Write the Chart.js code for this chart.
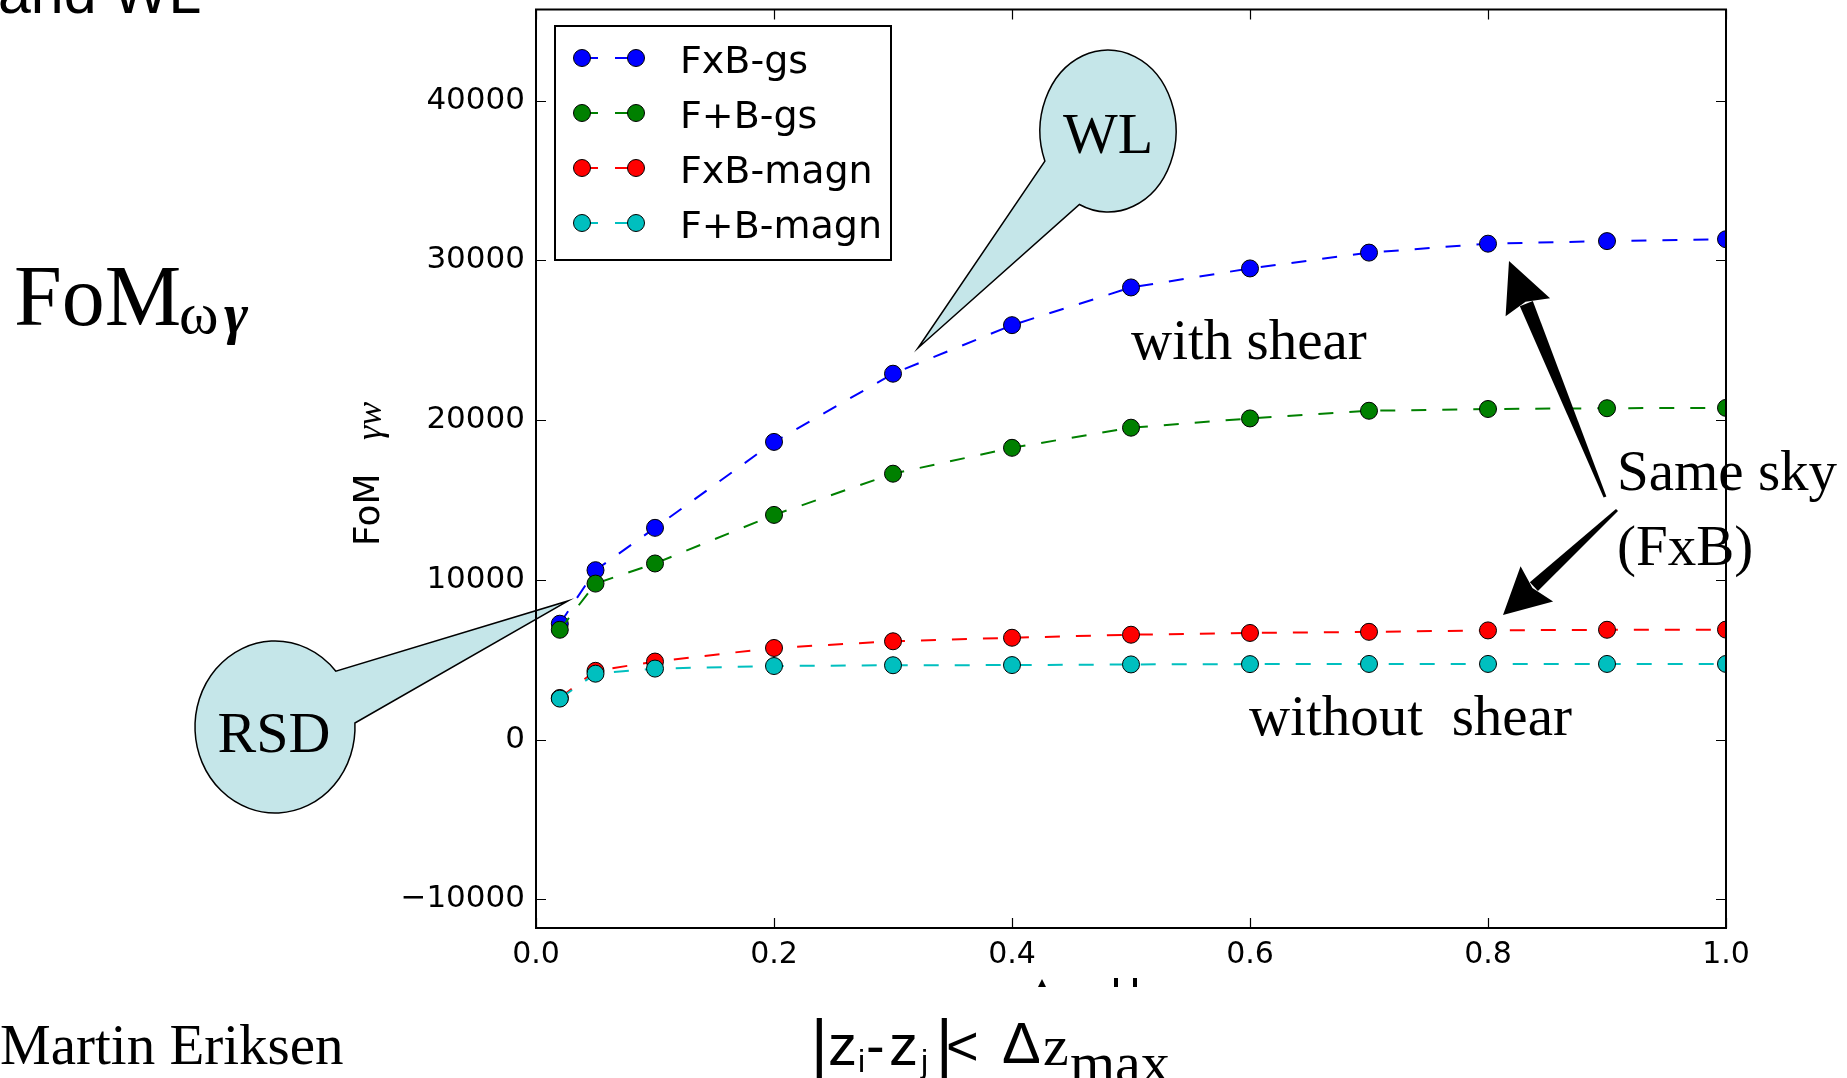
<!DOCTYPE html>
<html>
<head>
<meta charset="utf-8">
<script src="https://cdn.jsdelivr.net/npm/chart.js@4.4.1/dist/chart.umd.min.js"></script>
<style>
  html, body { margin: 0; padding: 0; background: #fff; overflow: hidden; }
  canvas { display: block; }
</style>
</head>
<body>
<canvas id="fomChart" width="1847" height="1078"></canvas>
<script>
// values
const zmax = [0.02, 0.05, 0.1, 0.2, 0.3, 0.4, 0.5, 0.6, 0.7, 0.8, 0.9, 1.0];
const fxbGs = [7250, 10600, 13250, 18630, 22900, 25940, 28300, 29490, 30480, 31040, 31200, 31320];
const fpbGs = [6870, 9760, 11020, 14060, 16640, 18260, 19520, 20100, 20580, 20690, 20740, 20760];
const fxbMagn = [2600, 4300, 4880, 5730, 6150, 6370, 6560, 6670, 6740, 6830, 6870, 6880];
const fpbMagn = [2560, 4120, 4440, 4600, 4650, 4660, 4700, 4720, 4730, 4730, 4730, 4730];
const seriesNames = ['FxB-gs', 'F+B-gs', 'FxB-magn', 'F+B-magn'];
const seriesColors = ['#0000ff', '#008000', '#ff0000', '#00bfbf'];
const yTicks = [-10000, 0, 10000, 20000, 30000, 40000];
const xTicks = [0, 0.2, 0.4, 0.6, 0.8, 1.0];

const series = [fxbGs, fpbGs, fxbMagn, fpbMagn];
const SANS = '"DejaVu Sans"';
const SERIF = '"Liberation Serif"';
const BUBBLE = '#c5e6e9';

function bubble(ctx, cx, cy, rx, ry, b1, b2, tip, label, tx, ty) {
    const a1 = Math.atan2((b1[1] - cy) / ry, (b1[0] - cx) / rx);
    const a2 = Math.atan2((b2[1] - cy) / ry, (b2[0] - cx) / rx);
    ctx.beginPath();
    ctx.ellipse(cx, cy, rx, ry, 0, a1, a2, false);
    ctx.lineTo(tip[0], tip[1]);
    ctx.closePath();
    ctx.fillStyle = BUBBLE;
    ctx.fill();
    ctx.lineWidth = 1.5;
    ctx.strokeStyle = '#000';
    ctx.stroke();
    ctx.fillStyle = '#000';
    ctx.font = '58px ' + SERIF;
    ctx.textAlign = 'center';
    ctx.fillText(label, tx, ty);
    ctx.textAlign = 'left';
}

function arrow(ctx, tail, tip, headLen, headHalf, w0, w1) {
    const dx = tip[0] - tail[0], dy = tip[1] - tail[1];
    const L = Math.hypot(dx, dy);
    const ux = dx / L, uy = dy / L, nx = -uy, ny = ux;
    const bx = tip[0] - ux * headLen, by = tip[1] - uy * headLen;
    ctx.fillStyle = '#000';
    ctx.beginPath();
    ctx.moveTo(tail[0] + nx * w0, tail[1] + ny * w0);
    ctx.lineTo(bx + ux * 4 + nx * w1, by + uy * 4 + ny * w1);
    ctx.lineTo(bx + ux * 4 - nx * w1, by + uy * 4 - ny * w1);
    ctx.lineTo(tail[0] - nx * w0, tail[1] - ny * w0);
    ctx.closePath();
    ctx.fill();
    ctx.beginPath();
    ctx.moveTo(tip[0], tip[1]);
    ctx.lineTo(bx + nx * headHalf, by + ny * headHalf);
    ctx.lineTo(bx + ux * 6, by + uy * 6);
    ctx.lineTo(bx - nx * headHalf, by - ny * headHalf);
    ctx.closePath();
    ctx.fill();
}

const decor = {
    id: 'decor',
    beforeDraw(chart) {
        const ctx = chart.ctx;
        ctx.save();
        ctx.fillStyle = '#fff';
        ctx.fillRect(0, 0, chart.width, chart.height);
        ctx.restore();
    },
    afterDraw(chart) {
        const ctx = chart.ctx;
        const a = chart.chartArea;
        const xs = chart.scales.x, ys = chart.scales.y;
        ctx.save();

        // inward ticks on all four sides
        ctx.strokeStyle = '#000';
        ctx.lineWidth = 1.2;
        ctx.beginPath();
        yTicks.forEach(v => {
            const p = Math.round(ys.getPixelForValue(v)) + 0.5;
            ctx.moveTo(a.left, p); ctx.lineTo(a.left + 10, p);
            ctx.moveTo(a.right, p); ctx.lineTo(a.right - 10, p);
        });
        xTicks.forEach(v => {
            const p = Math.round(xs.getPixelForValue(v)) + 0.5;
            ctx.moveTo(p, a.bottom); ctx.lineTo(p, a.bottom - 10);
            ctx.moveTo(p, a.top); ctx.lineTo(p, a.top + 10);
        });
        ctx.stroke();

        // legend box
        ctx.fillStyle = '#fff';
        ctx.fillRect(555, 26, 336, 234);
        ctx.lineWidth = 2;
        ctx.strokeRect(555, 26, 336, 234);
        seriesNames.forEach((name, i) => {
            const yy = 58 + i * 55;
            ctx.strokeStyle = seriesColors[i];
            ctx.lineWidth = 2;
            ctx.beginPath();
            ctx.moveTo(582, yy); ctx.lineTo(598, yy);
            ctx.moveTo(615, yy); ctx.lineTo(636, yy);
            ctx.stroke();
            [582, 636].forEach(mx => {
                ctx.beginPath();
                ctx.arc(mx, yy, 8.5, 0, Math.PI * 2);
                ctx.fillStyle = seriesColors[i];
                ctx.fill();
                ctx.strokeStyle = '#000';
                ctx.lineWidth = 1;
                ctx.stroke();
            });
            ctx.fillStyle = '#000';
            ctx.font = '38px ' + SANS;
            ctx.fillText(name, 680, yy + 15);
        });

        // y axis title
        ctx.save();
        ctx.translate(379, 546);
        ctx.rotate(-Math.PI / 2);
        ctx.fillStyle = '#000';
        ctx.font = '36px ' + SANS;
        ctx.fillText('FoM', 0, 0);
        ctx.font = 'italic 36px ' + SERIF;
        ctx.fillText('γw', 106, 2);
        ctx.restore();

        // callouts
        bubble(ctx, 1108, 131, 68, 81, [1045, 161], [1080, 203], [918, 348], 'WL', 1108, 153);
        bubble(ctx, 275, 727, 80, 86, [355, 723], [335, 672], [568, 601], 'RSD', 274, 752);

        // texts in the slide
        ctx.fillStyle = '#000';
        ctx.textAlign = 'left';
        ctx.font = '57px ' + SERIF;
        ctx.fillText('with shear', 1131, 359);
        ctx.fillText('without  shear', 1249, 735);
        ctx.fillText('Same sky', 1617, 490);
        ctx.fillText('(FxB)', 1617, 565);

        arrow(ctx, [1605, 497], [1509, 261], 50, 24, 1.5, 7);
        arrow(ctx, [1617, 510], [1503, 615], 46, 24, 1.5, 6);

        ctx.font = '86px ' + SERIF;
        ctx.fillText('FoM', 14, 325);
        ctx.font = '60px ' + SERIF;
        ctx.fillText('ω', 179, 333);
        ctx.font = 'bold italic 58px ' + SERIF;
        ctx.fillText('γ', 224, 333);

        ctx.font = '59px "Liberation Sans"';
        ctx.fillText('and WL', -2, 13);

        ctx.font = '57px ' + SERIF;
        ctx.fillText('Martin Eriksen', 0, 1064);

        // x axis title |zi-zj|< Δzmax
        const LS = '"Liberation Sans"';
        ctx.font = '64px ' + LS; ctx.fillText('|', 811, 1065);
        ctx.font = '58px ' + LS; ctx.fillText('z', 828, 1065);
        ctx.font = '32px ' + LS; ctx.fillText('i', 858, 1072);
        ctx.font = '56px ' + LS; ctx.fillText('-', 866, 1065);
        ctx.font = '58px ' + LS; ctx.fillText('z', 889, 1065);
        ctx.font = '32px ' + LS; ctx.fillText('j', 921, 1072);
        ctx.font = '64px ' + LS; ctx.fillText('|', 936, 1065);
        ctx.font = '56px ' + LS; ctx.fillText('<', 946, 1065);
        ctx.font = '58px ' + LS; ctx.fillText('Δ', 1002, 1063);
        ctx.font = '58px ' + SERIF; ctx.fillText('z', 1043, 1065);
        ctx.font = '58px ' + SERIF; ctx.fillText('max', 1070, 1082);

        // remnants of a covered label
        ctx.beginPath();
        ctx.moveTo(1038, 987); ctx.lineTo(1046, 987); ctx.lineTo(1042, 979);
        ctx.closePath(); ctx.fill();
        ctx.fillRect(1114, 978, 4, 9);
        ctx.fillRect(1133, 978, 4, 9);

        // axes frame
        ctx.strokeStyle = '#000';
        ctx.lineWidth = 2;
        ctx.strokeRect(a.left, a.top, a.right - a.left, a.bottom - a.top);
        ctx.restore();
    }
};

new Chart(document.getElementById('fomChart'), {
    type: 'line',
    data: {
        datasets: series.map((vals, i) => ({
            label: seriesNames[i],
            data: zmax.map((x, k) => ({ x: x, y: vals[k] })),
            borderColor: seriesColors[i],
            backgroundColor: seriesColors[i],
            borderWidth: 2,
            borderDash: [15, 16],
            pointRadius: 8.5,
            pointBorderWidth: 1,
            pointBorderColor: '#000',
            pointBackgroundColor: seriesColors[i],
            tension: 0,
            fill: false,
            order: 4 - i
        }))
    },
    options: {
        responsive: false,
        devicePixelRatio: 1,
        animation: false,
        events: [],
        layout: { padding: { left: 0, right: 121, top: 9, bottom: 0 } },
        plugins: { legend: { display: false }, tooltip: { enabled: false } },
        scales: {
            x: {
                type: 'linear',
                min: 0,
                max: 1,
                afterBuildTicks: s => { s.ticks = xTicks.map(v => ({ value: v })); },
                afterFit: s => { s.height = 150; s.paddingLeft = 0; s.paddingRight = 0; },
                grid: { display: false },
                border: { display: false },
                ticks: {
                    padding: 1,
                    color: '#000',
                    font: { family: 'DejaVu Sans', size: 30 },
                    maxRotation: 0,
                    callback: v => Number(v).toFixed(1)
                }
            },
            y: {
                type: 'linear',
                min: -11800,
                max: 45700,
                afterBuildTicks: s => { s.ticks = yTicks.map(v => ({ value: v })); },
                afterFit: s => { s.width = 536; s.paddingTop = 0; s.paddingBottom = 0; },
                grid: { display: false },
                border: { display: false },
                ticks: {
                    padding: 3,
                    color: '#000',
                    font: { family: 'DejaVu Sans', size: 31 },
                    callback: v => v < 0 ? '\u2212' + (-v) : String(v)
                }
            }
        }
    },
    plugins: [decor]
});
</script>
</body>
</html>
